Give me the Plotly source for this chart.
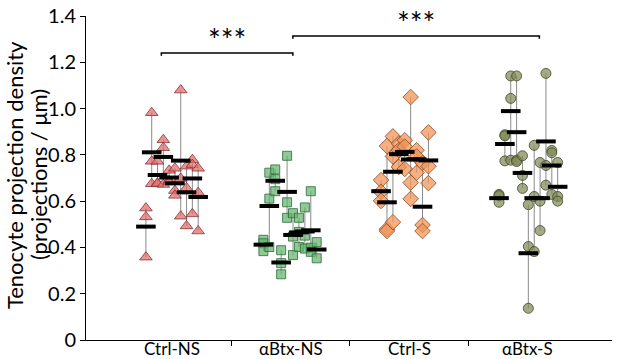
import plotly.graph_objects as go

categories = ["Ctrl-NS", "αBtx-NS", "Ctrl-S", "αBtx-S"]
y_ticks = [0, 0.2, 0.4, 0.6, 0.8, 1.0, 1.2, 1.4]
y_tick_labels = ["0", "0.2", "0.4", "0.6", "0.8", "1.0", "1.2", "1.4"]
y_title_lines = ["Tenocyte projection density", "(projections / μm)"]

# each inner list = one animal (column) within the group
ctrl_ns_points = [
    [0.570, 0.532, 0.358],
    [0.982, 0.772, 0.675],
    [0.772, 0.678, 0.675],
    [0.865, 0.831, 0.672],
    [0.733, 0.688, 0.683],
    [0.742, 0.646, 0.625],
    [1.080, 0.698, 0.535],
    [0.751, 0.657, 0.493],
    [0.779, 0.758, 0.545],
    [0.742, 0.637, 0.471],
]
ctrl_ns_means = [0.490, 0.811, 0.713, 0.791, 0.702, 0.677, 0.775, 0.638, 0.698, 0.618]

abtx_ns_points = [
    [0.433, 0.418, 0.384],
    [0.723, 0.611, 0.402],
    [0.737, 0.695, 0.643],
    [0.388, 0.332, 0.284],
    [0.796, 0.595, 0.528],
    [0.548, 0.447, 0.367],
    [0.528, 0.467, 0.402],
    [0.573, 0.451, 0.395],
    [0.643, 0.399, 0.381],
    [0.423, 0.353],
]
abtx_ns_means = [0.412, 0.579, 0.688, 0.335, 0.640, 0.454, 0.465, 0.469, 0.474, 0.391]

ctrl_s_points = [
    [0.691, 0.640, 0.601],
    [0.838, 0.479, 0.471],
    [0.880, 0.793, 0.509],
    [0.849, 0.820, 0.748],
    [0.863, 0.836, 0.739],
    [1.050, 0.680, 0.610],
    [0.820, 0.793, 0.723],
    [0.765, 0.497, 0.471],
    [0.897, 0.751, 0.678],
]
ctrl_s_means = [0.643, 0.595, 0.727, 0.803, 0.813, 0.780, 0.781, 0.576, 0.776]

abtx_s_points = [
    [0.629, 0.624, 0.595],
    [0.887, 0.882, 0.774],
    [1.141, 1.044, 0.777],
    [1.141, 0.777, 0.771],
    [0.796, 0.711, 0.655],
    [0.585, 0.404, 0.137],
    [0.841, 0.620, 0.382],
    [0.767, 0.600, 0.473],
    [1.152, 0.754, 0.669],
    [0.819, 0.809, 0.629],
    [0.767, 0.620, 0.600],
]
abtx_s_means = [0.613, 0.847, 0.989, 0.898, 0.722, 0.375, 0.613, 0.613, 0.858, 0.754, 0.662]

# significance comparisons
sig_from = [-0.09, 1.02]
sig_to = [1.02, 3.10]
sig_height = [1.240, 1.314]
sig_label = ["***", "***"]

FONT = "Lato"

styles = [
    dict(symbol="triangle-up", size=11, color="rgba(226,112,112,0.75)",
         line=dict(color="rgb(140,50,50)", width=0.8)),
    dict(symbol="square", size=9, color="rgba(98,180,110,0.72)",
         line=dict(color="rgb(45,105,55)", width=0.8)),
    dict(symbol="diamond", size=12, color="rgba(240,150,90,0.75)",
         line=dict(color="rgb(140,75,35)", width=0.8)),
    dict(symbol="circle", size=10, color="rgba(128,138,88,0.72)",
         line=dict(color="rgb(65,70,40)", width=0.8)),
]
layout_cols = [(0.049, 0.0), (0.050, -0.004), (0.050, -0.036), (0.0495, 0.007)]

groups = [
    (ctrl_ns_points, ctrl_ns_means),
    (abtx_ns_points, abtx_ns_means),
    (ctrl_s_points, ctrl_s_means),
    (abtx_s_points, abtx_s_means),
]

fig = go.Figure()
for gi, (pts, means) in enumerate(groups):
    step, shift = layout_cols[gi]
    n = len(pts)
    xl, yl, xp, yp, xm = [], [], [], [], []
    for j, col in enumerate(pts):
        x = gi + shift + (j - (n - 1) / 2) * step
        xl += [x, x, None]
        yl += [min(col), max(col), None]
        xp += [x] * len(col)
        yp += col
        xm.append(x)
    fig.add_trace(go.Scatter(x=xl, y=yl, mode="lines",
                             line=dict(color="#8a8a8a", width=1),
                             hoverinfo="skip", showlegend=False))
    fig.add_trace(go.Scatter(x=xp, y=yp, mode="markers", marker=styles[gi],
                             showlegend=False))
    fig.add_trace(go.Scatter(x=xm, y=means, mode="markers",
                             marker=dict(symbol="line-ew", size=14,
                                         line=dict(color="black", width=4)),
                             showlegend=False))

drop = 0.012
for a, b, h, lab in zip(sig_from, sig_to, sig_height, sig_label):
    fig.add_trace(go.Scatter(x=[a, a, b, b], y=[h - drop, h, h, h - drop],
                             mode="lines", line=dict(color="black", width=1.5),
                             hoverinfo="skip", showlegend=False))
    fig.add_annotation(x=(a + b) / 2, y=h, xref="x", yref="y", text=lab,
                       showarrow=False, yanchor="bottom", yshift=-6,
                       font=dict(family=FONT, size=30, color="black"))

# category labels
for i, c in enumerate(categories):
    fig.add_annotation(x=i, y=0, xref="x", yref="paper", text=c,
                       showarrow=False, xanchor="center", yanchor="top",
                       yshift=4, font=dict(family=FONT, size=17, color="black"))

# y-axis title, two lines
for xpix, line in zip([14, 38], y_title_lines):
    fig.add_annotation(xref="paper", yref="paper", x=(xpix - 86) / 526, y=0.509,
                       xanchor="center", yanchor="middle", textangle=-90,
                       text=line, showarrow=False,
                       font=dict(family=FONT, size=22, color="black"))

fig.update_layout(
    width=617, height=359,
    margin=dict(l=86, r=5, t=16, b=19),
    paper_bgcolor="white", plot_bgcolor="white",
    font=dict(family=FONT, size=18, color="black"),
    xaxis=dict(range=[-0.726, 3.713], tickmode="array",
               tickvals=[0, 1, 2, 3], ticktext=categories, ticks="",
               showticklabels=False, automargin=False,
               showline=True, linecolor="black", linewidth=1,
               showgrid=False, zeroline=False,
               minor=dict(tickmode="array", tickvals=[0.5, 1.5, 2.5],
                          ticks="outside", ticklen=5, tickcolor="black",
                          showgrid=False)),
    yaxis=dict(range=[0, 1.4], tickmode="array", tickvals=y_ticks,
               ticktext=y_tick_labels, ticks="outside", ticklen=5,
               tickcolor="black", showline=True, linecolor="black",
               linewidth=1, showgrid=False, zeroline=False, automargin=False,
               tickfont=dict(family=FONT, size=20, color="black")),
)

fig.write_html(
    "out.html",
    config={"displayModeBar": False},
    post_script="document.body.style.margin='0';document.body.style.overflow='hidden';",
)
